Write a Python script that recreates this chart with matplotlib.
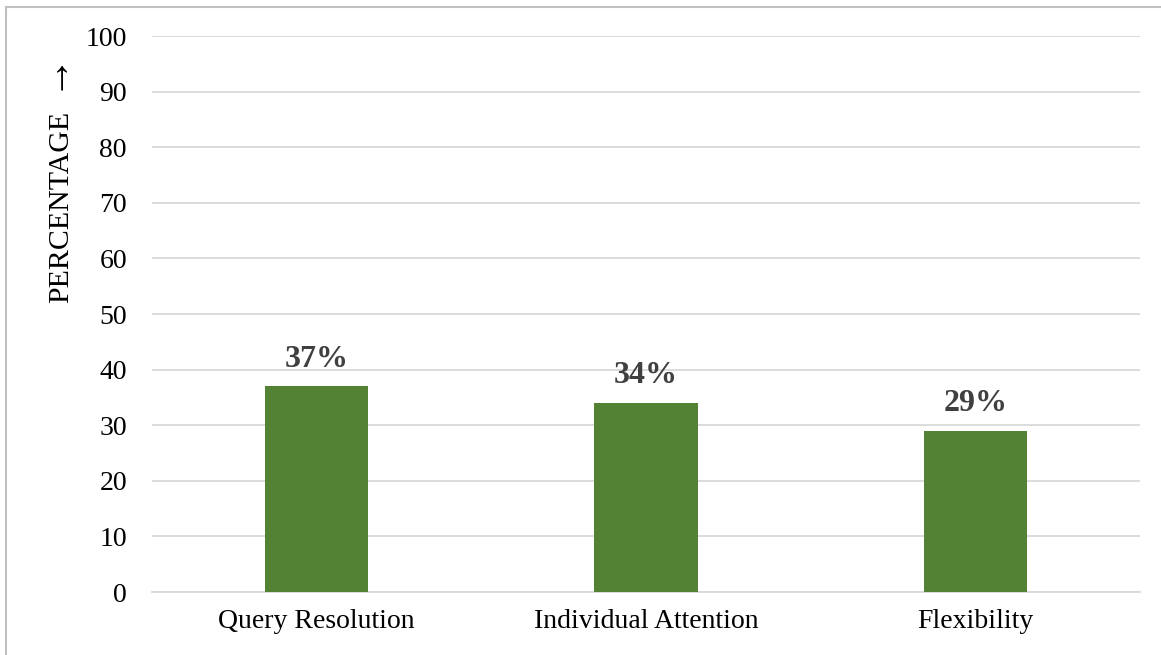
import matplotlib.pyplot as plt
from matplotlib.lines import Line2D

# Share of responses per benefit
categories = ["Query Resolution", "Individual Attention", "Flexibility"]
percentages = [37, 34, 29]
y_ticks = list(range(0, 101, 10))

BAR_COLOR = "#548235"
GRID_COLOR = "#d9d9d9"
LABEL_COLOR = "#404040"

plt.rcParams["font.family"] = ["Liberation Serif", "DejaVu Serif"]

W, H = 1161, 655
fig = plt.figure(figsize=(W / 100, H / 100), dpi=100)
ax = fig.add_axes([152 / W, 1 - 592 / H, (1140 - 152) / W, (592 - 36) / H])

x = range(len(categories))
bars = ax.bar(x, percentages, width=0.313, color=BAR_COLOR, zorder=3)

for rect, val in zip(bars, percentages):
    ax.annotate(f"{val}%", (rect.get_x() + rect.get_width() / 2, val),
                xytext=(0, 9), textcoords="offset points",
                ha="center", va="bottom", fontsize=23, fontweight="bold",
                color=LABEL_COLOR)

ax.set_xlim(-0.5, len(categories) - 0.5)
ax.set_ylim(0, 100)
ax.set_yticks(y_ticks)
ax.set_xticks(list(x))
ax.set_xticklabels(categories)
ax.tick_params(axis="y", length=0, pad=18, labelsize=20)
ax.tick_params(axis="x", length=0, pad=12, labelsize=20)

ax.yaxis.grid(True, color=GRID_COLOR, linewidth=1.3, zorder=0)
ax.set_axisbelow(True)
for side in ("top", "right", "left"):
    ax.spines[side].set_visible(False)
ax.spines["bottom"].set_color(GRID_COLOR)
ax.spines["bottom"].set_linewidth(1.3)

# axis title with an arrow pointing up
fig.text(61 / W, 1 - 207 / H, "PERCENTAGE", rotation=90,
         ha="center", va="center", fontsize=21.5)
fig.text(51 / W, 1 - 69 / H, "\u2192", rotation=90,
         ha="center", va="center", fontsize=30)

# chart frame (top and left edges)
frame_x = 6 / W
frame_y = 1 - 7 / H
fig.add_artist(Line2D([frame_x, 1], [frame_y, frame_y], color="#c0c0c0", linewidth=1.5))
fig.add_artist(Line2D([frame_x, frame_x], [0, frame_y], color="#c0c0c0", linewidth=1.5))

fig.savefig("out.png", dpi=100)
